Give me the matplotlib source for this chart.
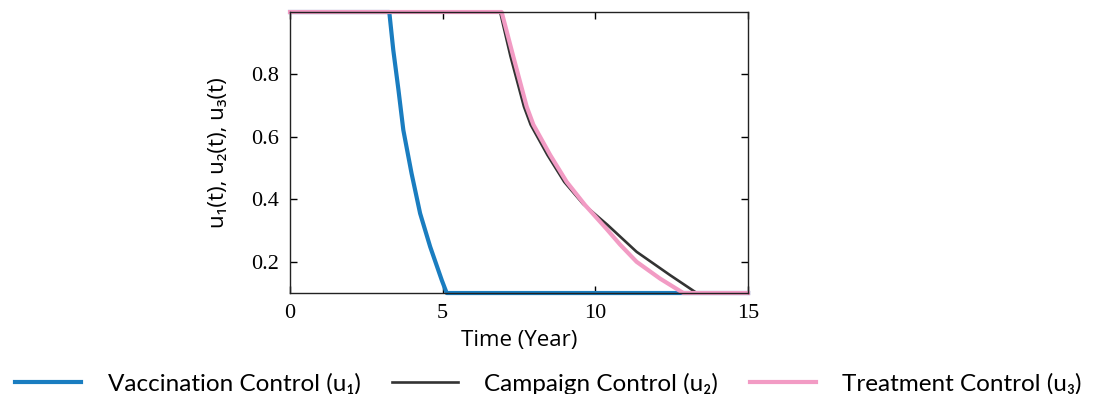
import matplotlib
matplotlib.use("Agg")
import matplotlib.pyplot as plt

# control profiles (time in years, control level)
t_vacc = [0, 3.25, 3.38, 3.55, 3.71, 3.98, 4.26, 4.59, 4.97, 5.13, 15]
u_vacc = [1.0, 1.0, 0.879, 0.751, 0.622, 0.483, 0.355, 0.248, 0.141, 0.1, 0.1]

t_camp = [0, 6.88, 7.22, 7.66, 7.88, 8.43, 8.98, 9.60, 9.90, 10.40, 11.35, 12.45, 13.32, 15]
u_camp = [1.0, 1.0, 0.858, 0.697, 0.639, 0.542, 0.456, 0.385, 0.36, 0.318, 0.232, 0.157, 0.1, 0.1]

t_treat = [0, 6.93, 7.31, 7.75, 7.97, 8.52, 9.06, 9.66, 10.35, 10.81, 11.35, 12.12, 12.88, 15]
u_treat = [1.0, 1.0, 0.858, 0.697, 0.639, 0.542, 0.456, 0.382, 0.307, 0.255, 0.2, 0.146, 0.1, 0.1]

labels = ["Vaccination Control (u\u2081)", "Campaign Control (u\u2082)", "Treatment Control (u\u2083)"]
xticks = [0, 5, 10, 15]
yticks = [0.2, 0.4, 0.6, 0.8]

fig = plt.figure(figsize=(10.97, 3.94), dpi=100)
ax = fig.add_axes([0.2644, 0.2563, 0.4175, 0.7132])

l1, = ax.plot(t_vacc, u_vacc, color="#1a7dc0", lw=3.0, clip_on=False)
l2, = ax.plot(t_camp, u_camp, color="#333333", lw=1.9, clip_on=False)
l3, = ax.plot(t_treat, u_treat, color="#f29bc4", lw=3.0, clip_on=False)

ax.set_xlim(0, 15)
ax.set_ylim(0.1, 1.0)
ax.set_xticks(xticks)
ax.set_yticks(yticks)
ax.tick_params(direction="in", length=5, top=True, right=True, width=1, pad=8)
for lab in ax.get_xticklabels() + ax.get_yticklabels():
    lab.set_family("Liberation Serif")
    lab.set_fontsize(16)
for sp in ax.spines.values():
    sp.set_linewidth(1.0)
    sp.set_color("#222222")

ax.set_xlabel("Time (Year)", family=["Open Sans", "DejaVu Sans"], fontsize=16, labelpad=5)
ax.set_ylabel("u\u2081(t), u\u2082(t), u\u2083(t)", family=["Open Sans", "DejaVu Sans"], fontsize=16, labelpad=16)

fig.legend([l1, l2, l3], labels, loc="lower center", bbox_to_anchor=(0.5, -0.045), ncol=3,
           frameon=False, handlelength=2.7, columnspacing=1.3, handletextpad=1.1, borderpad=0.2,
           prop={"family": ["Lato", "DejaVu Sans"], "size": 17.5})

fig.savefig("out.png", dpi=100)
